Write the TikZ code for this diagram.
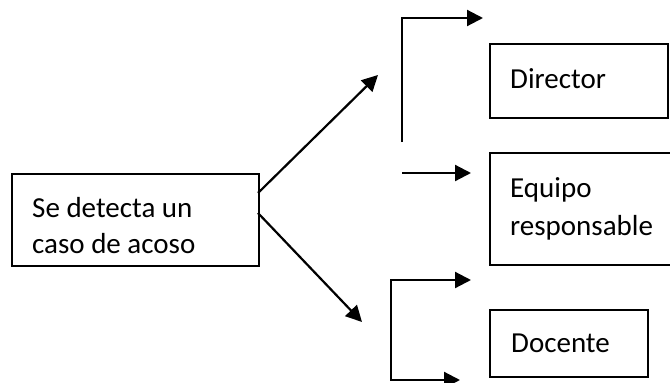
\documentclass[tikz,border=0pt]{standalone}
\usepackage{fontspec}
\setmainfont{Carlito}
\usetikzlibrary{arrows.meta}
\begin{document}
\begin{tikzpicture}[x=1pt,y=-1pt,
  box/.style={draw,line width=2.3pt,inner sep=0pt,anchor=north west},
  lbl/.style={anchor=base west,inner sep=0pt,font=\fontsize{29}{34}\selectfont},
  conn/.style={line width=2.2pt,-{Triangle[length=16pt,width=16pt]}},
  plain/.style={line width=2.2pt}]
\useasboundingbox (0,0) rectangle (670,383);
% boxes
\node[box,minimum width=247pt,minimum height=92pt] (src) at (11,173) {};
\node[box,minimum width=178pt,minimum height=74pt] (dir) at (489,43) {};
\node[box,minimum width=190pt,minimum height=112pt] (equ) at (489,152) {};
\node[box,minimum width=158pt,minimum height=67pt] (doc) at (489,309) {};
% texts
\node[lbl] (t1) at (32,217) {Se detecta un};
\node[lbl] (t2) at (32,253) {caso de acoso};
\node[lbl] (t3) at (510,88) {Director};
\node[lbl] (t4) at (510,197) {Equipo};
\node[lbl] (t5) at (510,235) {responsable};
\node[lbl] (t6) at (511,352) {Docente};
% connector points
\coordinate (s1) at (258,193);
\coordinate (s2) at (258,213);
\coordinate (u1) at (378,75);
\coordinate (d1) at (362,322);
\coordinate (a0) at (402,142);
\coordinate (a1) at (402,18);
\coordinate (a2) at (483,18);
\coordinate (m0) at (402,173);
\coordinate (m1) at (471,173);
\coordinate (b0) at (391,280);
\coordinate (b1) at (471,280);
\coordinate (b2) at (391,380);
\coordinate (b3) at (460,380);
% connectors
\draw[conn] (s1) -- (u1);
\draw[conn] (s2) -- (d1);
\draw[conn] (a0) -- (a1) -- (a2);
\draw[conn] (m0) -- (m1);
\draw[conn] (b2) -- (b0) -- (b1);
\draw[conn] (b0) -- (b2) -- (b3);
\end{tikzpicture}
\end{document}
